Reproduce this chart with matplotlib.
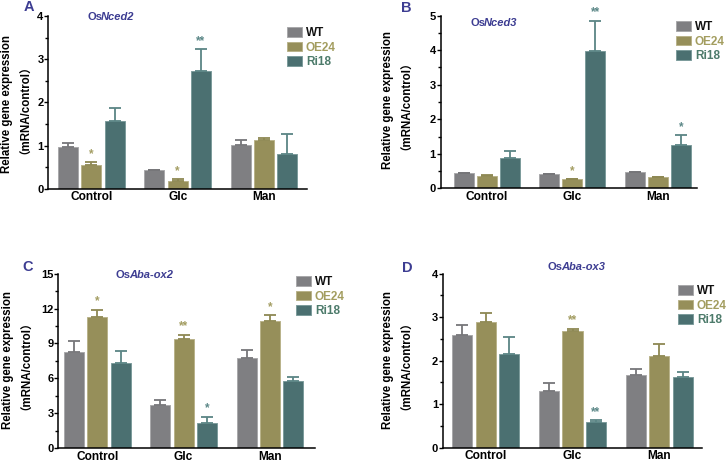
import matplotlib
matplotlib.use("Agg")
import matplotlib.pyplot as plt
import numpy as np
from matplotlib.ticker import MultipleLocator

plt.rcParams['font.family'] = ['Liberation Sans', 'Noto Sans CJK SC', 'DejaVu Sans']

categories = ["Control", "Glc", "Man"]
series_names = ["WT", "OE24", "Ri18"]

# Panel A: OsNced2
a_wt = [0.965, 0.43, 1.02]
a_wt_err = [0.105, 0.0, 0.11]
a_oe = [0.56, 0.18, 1.13]
a_oe_err = [0.05, 0.04, 0.05]
a_ri = [1.575, 2.72, 0.81]
a_ri_err = [0.305, 0.52, 0.45]
a_stars = [(1, 0, "*"), (1, 1, "*"), (2, 1, "**")]

# Panel B: OsNced3
b_wt = [0.44, 0.41, 0.47]
b_wt_err = [0.0, 0.0, 0.0]
b_oe = [0.36, 0.26, 0.32]
b_oe_err = [0.02, 0.0, 0.0]
b_ri = [0.87, 3.98, 1.24]
b_ri_err = [0.22, 0.88, 0.30]
b_stars = [(1, 1, "*"), (2, 1, "**"), (2, 2, "*")]

# Panel C: OsAba-ox2
c_wt = [8.26, 3.70, 7.71]
c_wt_err = [0.92, 0.46, 0.75]
c_oe = [11.24, 9.38, 10.96]
c_oe_err = [0.66, 0.37, 0.45]
c_ri = [7.28, 2.12, 5.79]
c_ri_err = [1.09, 0.58, 0.29]
c_stars = [(1, 0, "*"), (1, 1, "**"), (2, 1, "*"), (1, 2, "*")]

# Panel D: OsAba-ox3
d_wt = [2.58, 1.31, 1.67]
d_wt_err = [0.23, 0.18, 0.13]
d_oe = [2.88, 2.68, 2.10]
d_oe_err = [0.22, 0.06, 0.29]
d_ri = [2.16, 0.58, 1.63]
d_ri_err = [0.38, 0.06, 0.11]
d_stars = [(1, 1, "**"), (2, 1, "**")]

bar_colors = ["#7f7f82", "#968f5a", "#4b7071"]
edge_colors = ["#a9a9ab", "#b9b38a", "#7c9c9c"]
err_colors = ["#767679", "#8e8853", "#5b8585"]
star_colors = ["#7f7f82", "#a39d62", "#5b8787"]
legend_text_colors = ["#111111", "#a39d5f", "#4d7b6b"]
title_color = "#3d3d92"

W, H = 727, 462
fig = plt.figure(figsize=(W / 100, H / 100), dpi=100)


def px_axes(l, r, b, t):
    return fig.add_axes([l / W, 1 - b / H, (r - l) / W, (b - t) / H])


def panel(rect, xlim, ymax, ymajor, yminor, vals, errs, stars, letter, letter_xy,
          gene, title_split, ylabel_xy, leg_xy):
    ax = px_axes(*rect)
    x = np.arange(len(categories))
    width = 0.232
    step = 0.27
    bars = []
    for i in range(3):
        pos = x + (i - 1) * step
        b = ax.bar(pos, vals[i], width, color=bar_colors[i], edgecolor=edge_colors[i],
                   linewidth=0.7, label=series_names[i], zorder=2)
        bars.append(b)
        ax.errorbar(pos, vals[i], yerr=[np.zeros(3), errs[i]], fmt='none',
                    ecolor=err_colors[i], elinewidth=1.3, capsize=4, capthick=1.3, zorder=3)
    for (si, ci, s) in stars:
        top = vals[si][ci] + errs[si][ci]
        ax.annotate(s, (x[ci] + (si - 1) * step, top), xytext=(0, 1.5),
                    textcoords='offset points', ha='center', va='bottom',
                    fontsize=8.5, fontweight='bold', color=star_colors[si], zorder=4)
    ax.set_xlim(*xlim)
    ax.set_ylim(0, ymax)
    ax.yaxis.set_major_locator(MultipleLocator(ymajor))
    ax.yaxis.set_minor_locator(MultipleLocator(yminor))
    ax.set_xticks(x)
    ax.set_xticklabels(categories, fontsize=8.6, fontweight='bold')
    ax.tick_params(axis='x', length=0, pad=2)
    ax.tick_params(axis='y', which='major', length=3, width=1.0, pad=0.5, labelsize=8)
    ax.tick_params(axis='y', which='minor', length=2, width=1.0)
    for lab in ax.get_yticklabels():
        lab.set_fontweight('bold')
    for sp in ['top', 'right']:
        ax.spines[sp].set_visible(False)
    for sp in ['left', 'bottom']:
        ax.spines[sp].set_linewidth(1.1)
    # panel letter
    fig.text(letter_xy[0] / W, 1 - letter_xy[1] / H, letter, fontsize=10.5,
             fontweight='bold', color=title_color, ha='center', va='center')
    # gene title: "Os" + italic name
    tx, ty = title_split
    fig.text((tx + 0.5) / W, 1 - ty / H, "Os", fontsize=8, fontweight='bold',
             color=title_color, ha='right', va='center')
    fig.text((tx - 1.0) / W, 1 - ty / H, gene, fontsize=8, fontweight='bold',
             style='italic', color=title_color, ha='left', va='center')
    # y label
    fig.text(ylabel_xy[0] / W, 1 - ylabel_xy[1] / H,
             "Relative gene expression\n\uff08mRNA/control\uff09",
             rotation=90, fontsize=8.3, fontweight='bold', ha='center', va='center',
             multialignment='center', linespacing=1.15)
    # legend
    ax.legend(handles=bars, loc='upper left',
              bbox_to_anchor=(leg_xy[0] / W, 1 - leg_xy[1] / H),
              bbox_transform=fig.transFigure, frameon=False,
              prop={'size': 8.5, 'weight': 'bold'}, handlelength=1.3,
              handleheight=0.85, handletextpad=0.3, labelspacing=0.22,
              borderpad=0, borderaxespad=0, labelcolor=legend_text_colors)
    return ax


panel((48.3, 307, 188.7, 16), (-0.5, 2.5), 4, 1, 0.5,
      [a_wt, a_oe, a_ri], [a_wt_err, a_oe_err, a_ri_err], a_stars,
      "A", (29, 7), "Nced2", (101.5, 17), (14, 104), (287, 27))

panel((440.7, 697, 188.3, 15.7), (-0.54, 2.46), 5, 1, 0.5,
      [b_wt, b_oe, b_ri], [b_wt_err, b_oe_err, b_ri_err], b_stars,
      "B", (406, 8), "Nced3", (485, 23), (395, 100), (676, 21))

panel((58.3, 315, 448, 273.7), (-0.45, 2.52), 15, 3, 1.5,
      [c_wt, c_oe, c_ri], [c_wt_err, c_oe_err, c_ri_err], c_stars,
      "C", (28, 267), "Aba-ox2", (130, 274.5), (15, 360), (296, 276))

panel((443, 702, 447.7, 273.7), (-0.49, 2.49), 4, 1, 0.5,
      [d_wt, d_oe, d_ri], [d_wt_err, d_oe_err, d_ri_err], d_stars,
      "D", (407, 268), "Aba-ox3", (562, 266.5), (395, 360), (678, 285))

fig.savefig("out.png", dpi=100)
